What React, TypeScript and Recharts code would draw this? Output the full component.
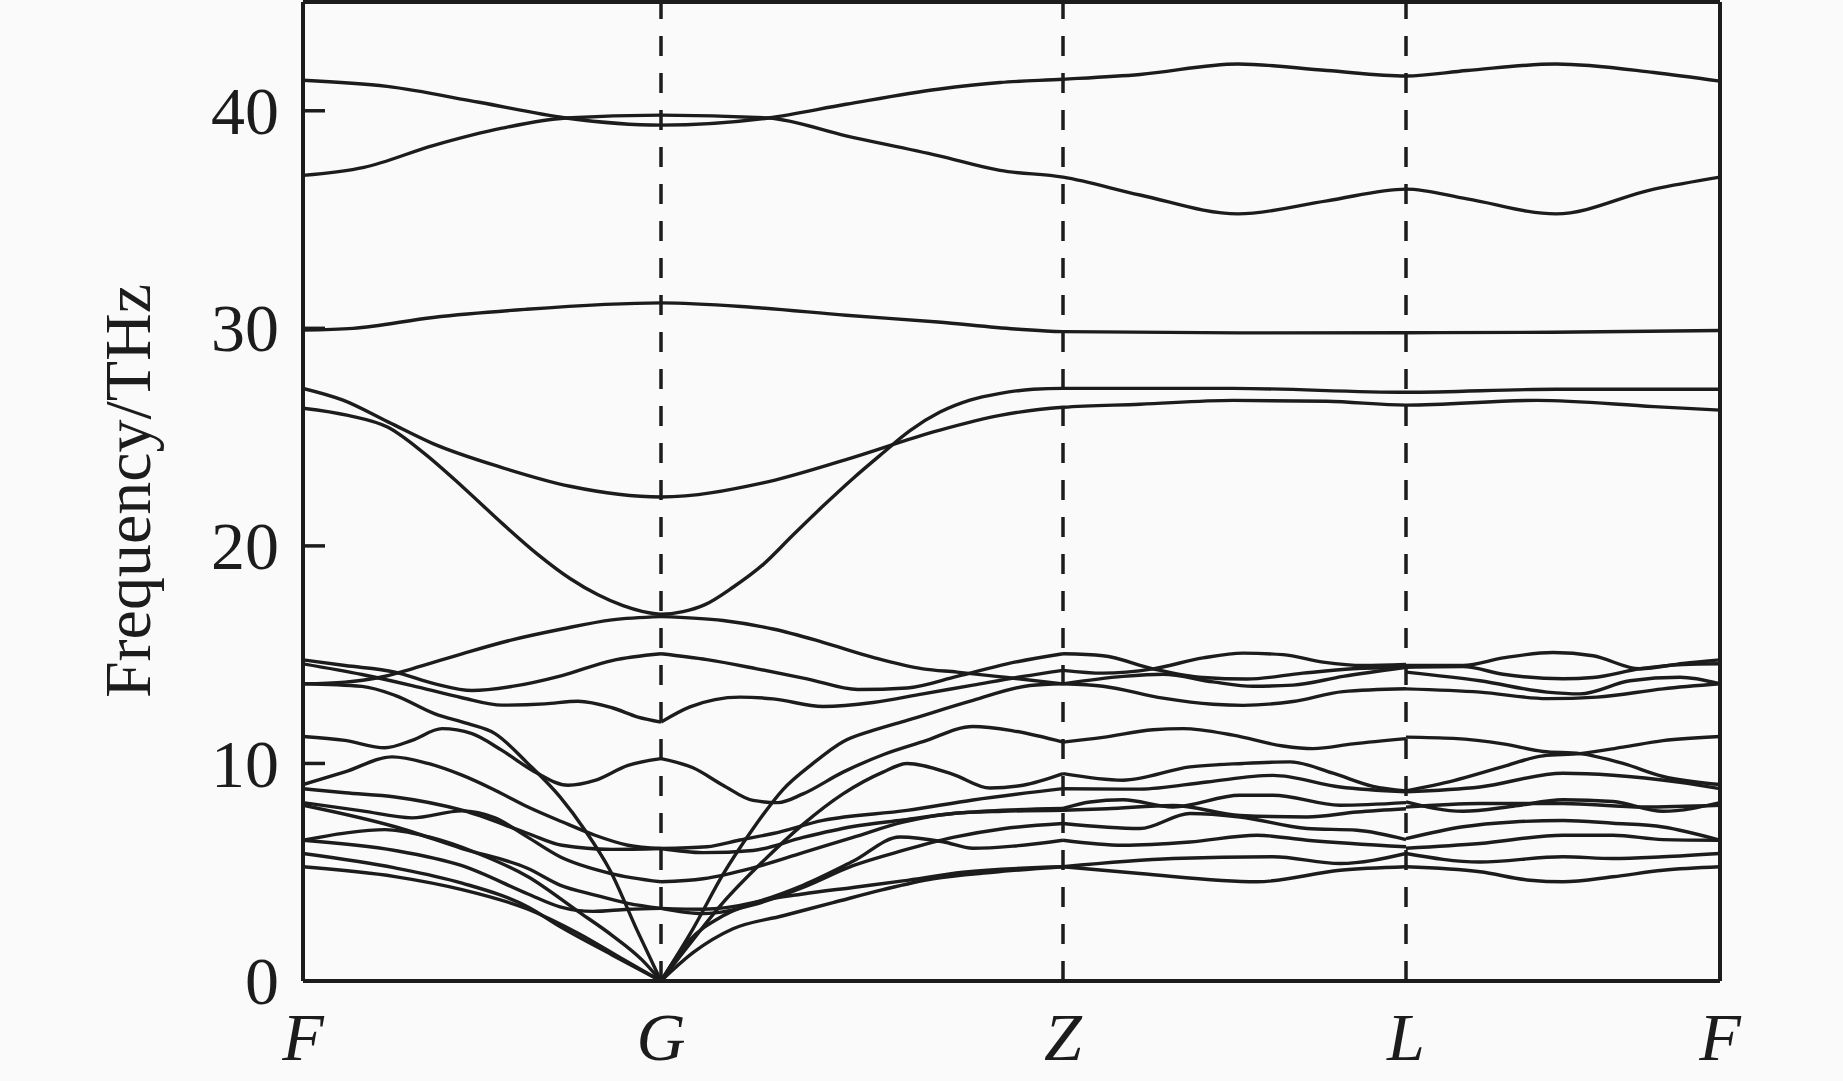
import React from 'react';
import { LineChart, Line, XAxis, YAxis, ReferenceLine } from 'recharts';

// high-symmetry points along the k-path
const kTicks = [0, 3.58, 7.6, 11.03, 14.17];
const kLabels = ['F', 'G', 'Z', 'L', 'F'];
const freqTicks = [0, 10, 20, 30, 40];

type Pt = [number, number];

// optical bands above 17 THz, whole path
const upperBands: Pt[][] = [
  [[0, 41.4], [0.84, 41.12], [1.76, 40.39], [2.63, 39.67], [3.58, 39.34], [4.65, 39.67], [5.43, 40.3], [6.35, 40.99], [6.97, 41.3], [7.6, 41.45], [8.37, 41.67], [9.35, 42.15], [10.24, 41.85], [11.03, 41.6], [11.64, 41.85], [12.53, 42.15], [13.51, 41.76], [14.17, 41.36]],
  [[0, 37.03], [0.61, 37.4], [1.3, 38.4], [1.99, 39.2], [2.63, 39.67], [3.58, 39.8], [4.65, 39.67], [5.43, 38.85], [6.35, 37.94], [6.97, 37.26], [7.6, 36.95], [8.37, 36.13], [9.35, 35.26], [10.24, 35.86], [11.03, 36.4], [11.64, 35.95], [12.53, 35.26], [13.51, 36.4], [14.17, 36.95]],
  [[0, 29.92], [0.5, 30.0], [1.3, 30.5], [2.22, 30.87], [3.58, 31.17], [4.51, 30.96], [5.43, 30.6], [6.35, 30.29], [7.12, 29.97], [7.6, 29.85], [9.35, 29.79], [11.03, 29.8], [12.5, 29.82], [14.17, 29.9]],
  [[0, 27.24], [0.4, 26.7], [0.85, 25.7], [1.3, 24.7], [1.99, 23.6], [2.67, 22.74], [3.58, 22.25], [4.6, 22.9], [5.43, 23.97], [6.35, 25.3], [6.97, 26.0], [7.6, 26.37], [8.37, 26.51], [9.3, 26.69], [10.24, 26.65], [11.03, 26.47], [12.34, 26.69], [13.51, 26.4], [14.17, 26.24]],
  [[0, 26.33], [0.45, 26.0], [0.85, 25.45], [1.2, 24.3], [1.6, 22.7], [2.0, 21.0], [2.35, 19.6], [2.67, 18.5], [2.95, 17.75], [3.2, 17.25], [3.4, 16.98], [3.58, 16.86], [3.8, 16.98], [4.02, 17.3], [4.3, 18.1], [4.6, 19.14], [4.9, 20.5], [5.2, 21.83], [5.5, 23.1], [5.78, 24.2], [6.07, 25.3], [6.37, 26.15], [6.67, 26.7], [6.96, 27.0], [7.3, 27.2], [7.6, 27.24], [9.3, 27.24], [11.03, 27.06], [12.53, 27.2], [14.17, 27.2]],
];

// F -> G
const bandsFG: Pt[][] = [
  [[0, 14.76], [0.42, 14.5], [0.92, 14.2], [1.32, 13.66], [1.69, 13.35], [2.09, 13.54], [2.59, 14.04], [3.09, 14.73], [3.58, 15.04]],
  [[0, 14.58], [0.59, 14.09], [1.09, 13.58], [1.59, 13.02], [1.99, 12.68], [2.42, 12.74], [2.75, 12.86], [3.09, 12.56], [3.35, 12.13], [3.58, 11.9]],
  [[0, 13.66], [0.42, 13.74], [0.75, 13.94], [1.09, 14.35], [1.59, 15.04], [2.09, 15.68], [2.59, 16.18], [3.09, 16.6], [3.58, 16.75]],
  [[0, 13.66], [0.59, 13.54], [0.92, 13.13], [1.32, 12.28], [1.65, 11.83], [1.92, 11.37], [2.25, 9.99], [2.57, 8.46], [2.82, 6.93], [3.07, 5.09], [3.34, 2.34], [3.58, 0]],
  [[0, 11.24], [0.42, 11.06], [0.82, 10.72], [1.09, 11.06], [1.39, 11.6], [1.69, 11.37], [1.99, 10.6], [2.32, 9.61], [2.65, 9.0], [2.92, 9.22], [3.25, 9.91], [3.58, 10.22]],
  [[0, 9.03], [0.42, 9.61], [0.89, 10.3], [1.25, 10.0], [1.59, 9.46], [1.92, 8.77], [2.25, 8.0], [2.59, 7.32], [2.92, 6.7], [3.25, 6.24], [3.58, 6.09]],
  [[0, 8.84], [0.42, 8.65], [0.92, 8.46], [1.59, 7.85], [2.25, 6.78], [2.59, 6.24], [3.09, 6.05], [3.58, 6.09]],
  [[0, 8.2], [0.59, 7.82], [1.09, 7.5], [1.59, 7.82], [1.92, 7.5], [2.25, 6.6], [2.57, 5.71], [3.07, 4.95], [3.58, 4.56]],
  [[0, 8.08], [0.92, 7.09], [1.59, 6.09], [2.25, 5.17], [2.57, 4.41], [2.92, 3.95], [3.25, 3.57], [3.58, 3.34]],
  [[0, 6.47], [0.42, 6.8], [0.82, 6.96], [1.25, 6.63], [1.75, 5.86], [2.25, 4.79], [2.75, 3.2], [3.09, 2.1], [3.39, 0.97], [3.58, 0]],
  [[0, 6.47], [0.92, 6.0], [1.59, 5.3], [2.25, 4.0], [2.57, 3.41], [2.9, 3.2], [3.25, 3.3], [3.58, 3.34]],
  [[0, 5.86], [0.92, 5.2], [1.59, 4.5], [2.25, 3.4], [2.57, 2.5], [3.09, 1.2], [3.58, 0]],
  [[0, 5.25], [0.92, 4.8], [1.59, 4.2], [2.25, 3.3], [2.75, 2.2], [3.2, 1.0], [3.58, 0]],
];

// G -> Z
const bandsGZ: Pt[][] = [
  [[3.58, 16.75], [4.2, 16.57], [4.7, 16.18], [5.2, 15.57], [5.7, 14.88], [6.2, 14.35], [6.54, 14.2], [7.04, 13.95], [7.6, 13.66]],
  [[3.58, 15.04], [4.04, 14.77], [4.54, 14.35], [5.04, 13.89], [5.55, 13.4], [6.04, 13.47], [6.54, 14.0], [7.04, 14.58], [7.6, 15.04]],
  [[3.58, 11.9], [3.87, 12.6], [4.37, 13.05], [4.7, 12.97], [5.2, 12.62], [5.7, 12.8], [6.2, 13.2], [6.7, 13.6], [7.2, 14.0], [7.6, 14.28]],
  [[3.58, 0], [3.9, 2.4], [4.2, 4.9], [4.5, 7.0], [4.8, 8.8], [5.1, 10.0], [5.4, 11.0], [5.7, 11.52], [6.04, 11.98], [6.7, 12.9], [7.27, 13.58], [7.6, 13.66]],
  [[3.58, 0], [3.85, 1.6], [4.2, 3.6], [4.6, 5.5], [5.0, 7.2], [5.4, 8.6], [5.8, 9.6], [6.04, 10.0], [6.5, 9.5], [6.87, 8.87], [7.2, 9.0], [7.6, 9.53]],
  [[3.58, 10.22], [3.9, 9.8], [4.2, 9.0], [4.5, 8.3], [4.75, 8.2], [5.0, 8.6], [5.4, 9.6], [5.8, 10.4], [6.2, 11.0], [6.7, 11.7], [7.1, 11.5], [7.6, 10.98]],
  [[3.58, 6.09], [4.04, 6.17], [4.37, 6.48], [4.7, 6.78], [5.2, 7.38], [6.04, 7.84], [6.7, 8.32], [7.6, 8.84]],
  [[3.58, 6.09], [4.0, 5.9], [4.5, 6.0], [5.0, 6.6], [5.5, 7.1], [6.0, 7.4], [6.5, 7.7], [7.0, 7.85], [7.6, 7.93]],
  [[3.58, 4.56], [4.0, 4.7], [4.5, 5.2], [5.0, 5.9], [5.5, 6.6], [6.0, 7.3], [6.5, 7.7], [7.0, 7.8], [7.6, 7.85]],
  [[3.58, 3.34], [4.0, 3.3], [4.5, 3.6], [5.0, 4.4], [5.5, 5.5], [5.97, 6.62], [6.4, 6.4], [6.7, 6.1], [7.1, 6.2], [7.6, 6.47]],
  [[3.58, 3.34], [4.0, 3.1], [4.5, 3.5], [5.0, 4.3], [5.5, 5.3], [6.0, 6.0], [6.5, 6.6], [7.0, 7.0], [7.6, 7.24]],
  [[3.58, 0], [3.9, 1.3], [4.3, 2.4], [4.8, 3.0], [5.3, 3.6], [5.8, 4.2], [6.3, 4.7], [6.9, 5.0], [7.6, 5.25]],
  [[3.58, 0], [3.85, 1.8], [4.2, 3.0], [4.6, 3.7], [5.0, 4.0], [5.5, 4.3], [6.0, 4.6], [6.6, 5.0], [7.6, 5.25]],
];

// Z -> L
const bandsZL: Pt[][] = [
  [[7.6, 15.04], [8.0, 14.95], [8.5, 14.35], [9.0, 13.95], [9.44, 13.88], [10.0, 14.15], [10.5, 14.35], [11.03, 14.42]],
  [[7.6, 14.28], [8.0, 14.15], [8.5, 14.35], [9.0, 14.85], [9.4, 15.07], [9.8, 15.0], [10.2, 14.66], [10.6, 14.5], [11.03, 14.55]],
  [[7.6, 13.66], [8.2, 14.0], [8.6, 14.1], [9.1, 13.75], [9.5, 13.55], [9.9, 13.6], [10.4, 14.0], [11.03, 14.42]],
  [[7.6, 13.66], [8.0, 13.55], [8.6, 13.0], [9.1, 12.72], [9.4, 12.67], [9.9, 12.85], [10.4, 13.3], [11.03, 13.43]],
  [[7.6, 10.98], [8.0, 11.2], [8.5, 11.55], [8.8, 11.6], [9.3, 11.3], [9.8, 10.8], [10.1, 10.68], [10.5, 10.9], [11.03, 11.14]],
  [[7.6, 9.53], [8.2, 9.23], [8.87, 9.84], [9.4, 10.0], [9.87, 10.07], [10.3, 9.55], [10.7, 8.95], [11.03, 8.74]],
  [[7.6, 8.84], [8.37, 8.82], [9.04, 9.15], [9.7, 9.45], [10.37, 8.92], [11.03, 8.7]],
  [[7.6, 7.93], [7.87, 8.23], [8.2, 8.33], [8.7, 8.0], [9.37, 8.54], [9.7, 8.54], [10.37, 8.08], [11.03, 8.2]],
  [[7.6, 7.85], [8.04, 7.92], [8.7, 8.07], [9.37, 7.61], [10.04, 7.54], [10.54, 7.77], [11.03, 7.92]],
  [[7.6, 7.24], [8.37, 7.01], [8.87, 7.7], [9.37, 7.54], [10.04, 7.01], [10.54, 6.93], [11.03, 6.5]],
  [[7.6, 6.47], [8.2, 6.24], [8.87, 6.39], [9.54, 6.7], [10.04, 6.47], [11.03, 6.17]],
  [[7.6, 5.25], [8.7, 5.63], [9.7, 5.71], [10.37, 5.4], [11.03, 5.86]],
  [[7.6, 5.25], [8.37, 4.94], [9.54, 4.56], [10.37, 5.09], [11.03, 5.25]],
];

// L -> F
const bandsLF: Pt[][] = [
  [[11.03, 14.5], [11.6, 14.5], [12.0, 14.85], [12.5, 15.1], [12.9, 14.95], [13.37, 14.35], [13.8, 14.6], [14.17, 14.76]],
  [[11.03, 14.42], [11.6, 14.45], [12.0, 14.1], [12.6, 13.89], [12.9, 13.95], [13.37, 14.35], [13.8, 14.55], [14.17, 14.58]],
  [[11.03, 14.2], [11.77, 13.8], [12.44, 13.28], [12.77, 13.2], [13.27, 13.8], [13.77, 13.96], [14.17, 13.66]],
  [[11.03, 13.43], [11.77, 13.28], [12.44, 12.98], [12.94, 13.05], [13.6, 13.43], [14.17, 13.66]],
  [[11.03, 11.21], [11.5, 11.15], [12.0, 10.9], [12.4, 10.55], [12.77, 10.45], [13.2, 10.0], [13.6, 9.4], [14.17, 9.03]],
  [[11.03, 8.74], [11.5, 9.2], [12.0, 9.85], [12.4, 10.35], [12.77, 10.45], [13.2, 10.75], [13.6, 11.05], [14.17, 11.24]],
  [[11.03, 8.7], [11.77, 8.92], [12.6, 9.55], [13.1, 9.46], [13.77, 9.13], [14.17, 8.84]],
  [[11.03, 8.23], [11.6, 7.8], [12.1, 8.03], [12.6, 8.33], [13.1, 8.25], [13.6, 7.8], [14.17, 8.2]],
  [[11.03, 7.99], [11.77, 8.16], [12.6, 8.16], [13.4, 8.0], [14.17, 8.08]],
  [[11.03, 6.54], [11.6, 7.09], [12.1, 7.31], [12.6, 7.38], [13.1, 7.25], [13.6, 7.08], [14.17, 6.47]],
  [[11.03, 6.1], [11.77, 6.32], [12.6, 6.7], [13.1, 6.7], [13.6, 6.5], [14.17, 6.47]],
  [[11.03, 5.86], [11.77, 5.47], [12.6, 5.71], [13.1, 5.63], [13.6, 5.71], [14.17, 5.86]],
  [[11.03, 5.25], [11.77, 5.02], [12.27, 4.63], [12.6, 4.56], [13.1, 4.79], [13.6, 5.09], [14.17, 5.25]],
];

const allBands = [...upperBands, ...bandsFG, ...bandsGZ, ...bandsZL, ...bandsLF].map((band) =>
  band.map(([k, f]) => ({ k, f }))
);

const ink = '#1c1c1c';
const serif = "'Liberation Serif', 'Times New Roman', serif";

const YTick = (props: any) => {
  const { x, y, payload } = props;
  return (
    <g>
      <line x1={x} x2={x + 22} y1={y} y2={y} stroke={ink} strokeWidth={3.5} />
      <text x={x - 24} y={y} dy="0.34em" textAnchor="end" fontFamily={serif} fontSize={68} fill={ink}>
        {payload.value}
      </text>
    </g>
  );
};

const XTick = (props: any) => {
  const { x, y, index } = props;
  return (
    <text x={x} y={y} dy={79} textAnchor="middle" fontFamily={serif} fontStyle="italic" fontSize={68} fill={ink}>
      {kLabels[index]}
    </text>
  );
};

export default function App() {
  return (
    <div style={{ position: 'absolute', left: 0, top: 0, width: 1843, height: 1081, background: '#fafafa', overflow: 'hidden' }}>
      <LineChart width={1843} height={1081} margin={{ top: 2, right: 123, bottom: 0, left: 0 }}>
        <XAxis
          dataKey="k"
          type="number"
          domain={[0, kTicks[kTicks.length - 1]]}
          ticks={kTicks}
          interval={0}
          height={100}
          tickSize={0}
          tickMargin={0}
          tickLine={false}
          axisLine={{ stroke: ink, strokeWidth: 4 }}
          tick={<XTick />}
          allowDataOverflow
        />
        <YAxis
          type="number"
          domain={[0, 45]}
          ticks={freqTicks}
          interval={0}
          width={303}
          tickSize={0}
          tickMargin={0}
          tickLine={false}
          axisLine={{ stroke: ink, strokeWidth: 4 }}
          tick={<YTick />}
          allowDataOverflow
        />
        {kTicks.slice(1, -1).map((k) => (
          <ReferenceLine key={`v-${k}`} x={k} stroke={ink} strokeWidth={3.5} strokeDasharray="20 17" />
        ))}
        <ReferenceLine y={45} stroke={ink} strokeWidth={4} />
        <ReferenceLine x={kTicks[kTicks.length - 1]} stroke={ink} strokeWidth={4} />
        {allBands.map((band, i) => (
          <Line
            key={`band-${i}`}
            data={band}
            dataKey="f"
            type="monotone"
            stroke={ink}
            strokeWidth={3.4}
            dot={false}
            activeDot={false}
            isAnimationActive={false}
          />
        ))}
      </LineChart>
      <div
        style={{
          position: 'absolute',
          left: 0,
          top: 0,
          transformOrigin: '0 0',
          transform: 'translate(95px, 491px) rotate(-90deg) translateX(-50%)',
          fontFamily: serif,
          fontSize: 66,
          lineHeight: 1,
          whiteSpace: 'nowrap',
          color: ink,
        }}
      >
        Frequency/THz
      </div>
    </div>
  );
}
